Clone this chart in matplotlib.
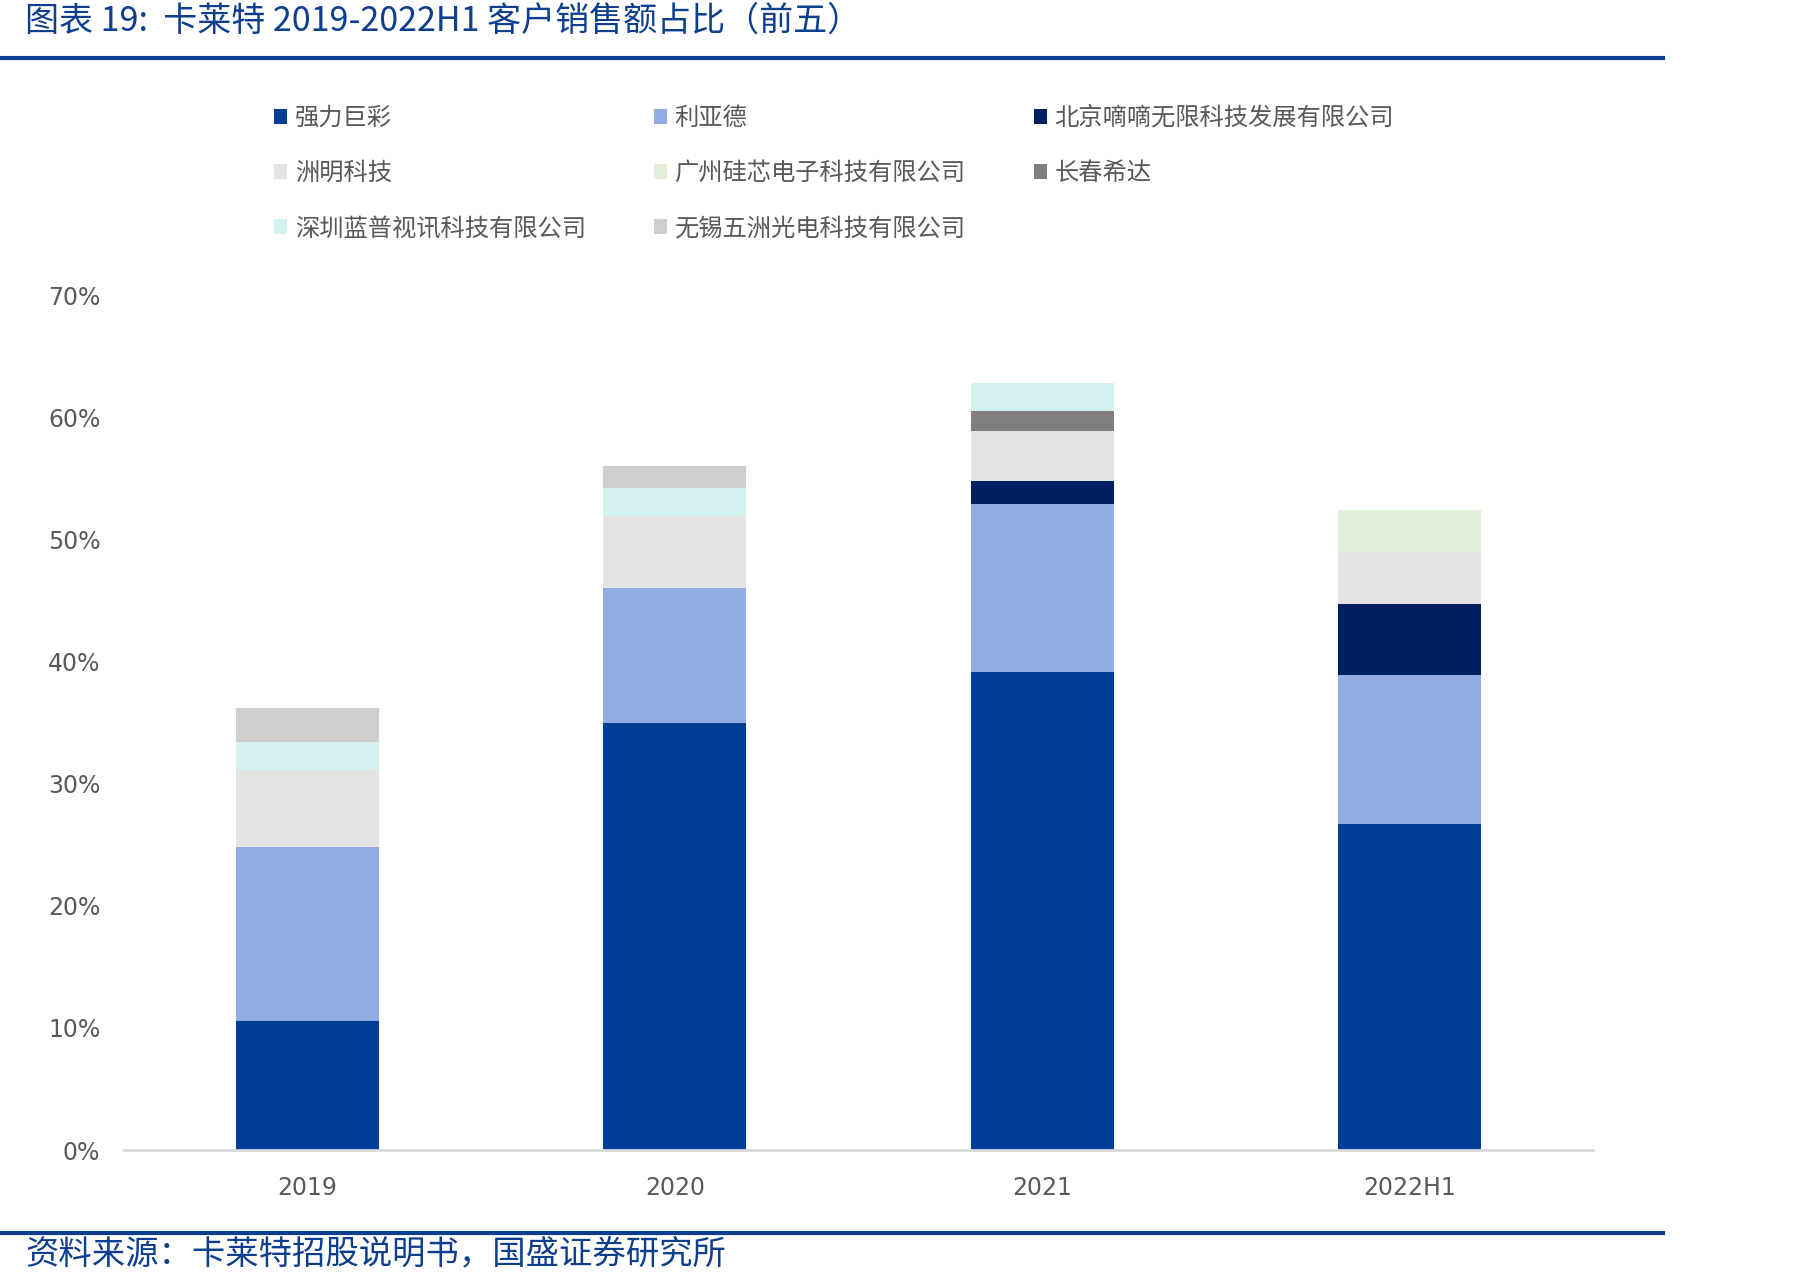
import matplotlib
matplotlib.use('Agg')
import matplotlib.pyplot as plt
from matplotlib.lines import Line2D
from matplotlib.patches import Patch
from matplotlib.ticker import PercentFormatter
import numpy as np

plt.rcParams['font.family'] = ['Noto Sans CJK SC', 'DejaVu Sans']

periods = ['2019', '2020', '2021', '2022H1']

# share of revenue (%), stacked bottom to top
qiangli = [10.6, 35.0, 39.1, 26.7]
liyade = [14.2, 11.0, 13.8, 12.2]
beijing_didi = [0.0, 0.0, 1.9, 5.8]
zhouming = [6.3, 5.9, 4.1, 4.3]
guangzhou_guixin = [0.0, 0.0, 0.0, 3.4]
changchun_xida = [0.0, 0.0, 1.6, 0.0]
shenzhen_lanpu = [2.3, 2.3, 2.3, 0.0]
wuxi_wuzhou = [2.8, 1.8, 0.0, 0.0]

names = ['强力巨彩', '利亚德', '北京嘀嘀无限科技发展有限公司', '洲明科技',
         '广州硅芯电子科技有限公司', '长春希达', '深圳蓝普视讯科技有限公司',
         '无锡五洲光电科技有限公司']
series = [qiangli, liyade, beijing_didi, zhouming, guangzhou_guixin,
          changchun_xida, shenzhen_lanpu, wuxi_wuzhou]
colors = ['#003F98', '#91ACE1', '#00205F', '#E4E4E4', '#E2F0D9',
          '#7F7F7F', '#D4F2F0', '#CFCDCE']

fig = plt.figure(figsize=(18.07, 12.85), dpi=100)
ax = fig.add_axes([0.0686, 0.105, 0.813, 0.6654])

x = np.arange(len(periods))
bottom = np.zeros(len(periods))
for name, vals, c in zip(names, series, colors):
    v = np.array(vals)
    ax.bar(x, v, 0.39, bottom=bottom, color=c, label=name, zorder=2)
    bottom += v

ax.set_xlim(-0.5, 3.5)
ax.set_ylim(0, 70)
ax.set_yticks(np.arange(0, 71, 10))
ax.yaxis.set_major_formatter(PercentFormatter(decimals=0))
ax.set_xticks(x)
ax.set_xticklabels(periods)
for s in ['top', 'right', 'left']:
    ax.spines[s].set_visible(False)
ax.spines['bottom'].set_color('#D9D9D9')
ax.spines['bottom'].set_linewidth(2)
ax.tick_params(axis='both', length=0, labelsize=17, labelcolor='#595959')
ax.tick_params(axis='y', pad=17)
ax.tick_params(axis='x', pad=19)
for lab in ax.get_xticklabels() + ax.get_yticklabels():
    lab.set_family('DejaVu Sans')

# legend filled column-wise, reorder to read row-wise
order = [0, 3, 6, 1, 4, 7, 2, 5]
handles = [Patch(facecolor=colors[i]) for i in order]
labels = [names[i] for i in order]
leg = fig.legend(handles, labels, ncol=3, loc='upper left',
                 bbox_to_anchor=(0.1517, 0.9184), frameon=False,
                 fontsize=17.5, handlelength=0.55, handleheight=0.55,
                 handletextpad=0.3, columnspacing=2.8, labelspacing=1.2,
                 borderpad=0, borderaxespad=0)
for t in leg.get_texts():
    t.set_color('#595959')

# header / footer
fig.text(0.014, 1 - 21 / 1285, '图表 19:  卡莱特 2019-2022H1 客户销售额占比（前五）',
         fontsize=24.5, color='#0E3F8F', style='italic', va='center', ha='left')
fig.add_artist(Line2D([0, 1663 / 1807], [1 - 58 / 1285] * 2, color='#0B3D91', lw=3))
fig.add_artist(Line2D([0, 1663 / 1807], [1 - 1233 / 1285] * 2, color='#0B3D91', lw=3))
fig.text(0.014, 1 - 1254 / 1285, '资料来源：卡莱特招股说明书，国盛证券研究所',
         fontsize=24, color='#0E3F8F', style='italic', va='center', ha='left')

fig.savefig('out.png', dpi=100, facecolor='white')
